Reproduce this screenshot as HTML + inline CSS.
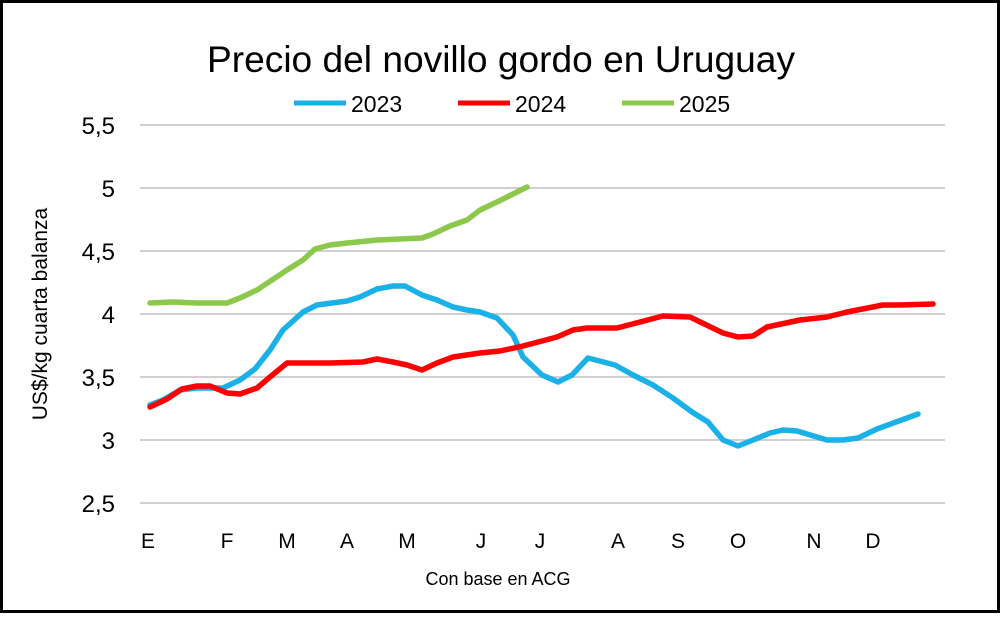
<!DOCTYPE html>
<html><head><style>body{margin:0;background:#fff}</style></head><body>
<svg width="1000" height="613" xmlns="http://www.w3.org/2000/svg" font-family="Liberation Sans, sans-serif">
<rect x="1.5" y="1.5" width="997" height="610" fill="#fff" stroke="#000" stroke-width="3"/>
<text x="501" y="72" font-size="37" text-anchor="middle" fill="#000" textLength="588" lengthAdjust="spacingAndGlyphs">Precio del novillo gordo en Uruguay</text>
<line x1="294" y1="103" x2="346" y2="103" stroke="#1ab0e8" stroke-width="5"/>
<text x="351" y="112" font-size="23">2023</text>
<line x1="458" y1="103" x2="510" y2="103" stroke="#f00" stroke-width="5"/>
<text x="515" y="112" font-size="23">2024</text>
<line x1="622" y1="103" x2="674" y2="103" stroke="#8cc84b" stroke-width="5"/>
<text x="679" y="112" font-size="23">2025</text>
<g stroke="#d0d0d0" stroke-width="2">
<line x1="140" y1="125" x2="945" y2="125"/><line x1="140" y1="188" x2="945" y2="188"/>
<line x1="140" y1="251" x2="945" y2="251"/><line x1="140" y1="314" x2="945" y2="314"/>
<line x1="140" y1="377" x2="945" y2="377"/><line x1="140" y1="440" x2="945" y2="440"/>
<line x1="140" y1="503" x2="945" y2="503"/></g>
<g font-size="24" text-anchor="end">
<text x="115" y="134">5,5</text><text x="115" y="197">5</text><text x="115" y="260">4,5</text>
<text x="115" y="323">4</text><text x="115" y="386">3,5</text><text x="115" y="449">3</text><text x="115" y="512">2,5</text></g>
<g font-size="21" text-anchor="middle">
<text x="148" y="548">E</text><text x="227" y="548">F</text><text x="287" y="548">M</text><text x="347" y="548">A</text>
<text x="407" y="548">M</text><text x="481" y="548">J</text><text x="540" y="548">J</text><text x="618" y="548">A</text>
<text x="678" y="548">S</text><text x="738" y="548">O</text><text x="814" y="548">N</text><text x="873" y="548">D</text></g>
<text x="498" y="585" font-size="18" text-anchor="middle">Con base en ACG</text>
<text transform="translate(47,314) rotate(-90)" font-size="21" text-anchor="middle">US$/kg cuarta balanza</text>
<g fill="none" stroke-width="5.5" stroke-linejoin="round" stroke-linecap="round">
<polyline stroke="#8cc84b" points="150,303 173,302 197,303 227,303 240,298 257,290 287,270 303,260 315,249 330,245 347,243 377,240 422,238 433,234 450,226 467,220 480,210 497,202 527,187"/>
<polyline stroke="#1ab0e8" points="150,405 163,400 180,390 197,388 223,388 240,380 255,369 270,350 283,330 303,312 317,305 347,301 360,297 377,289 393,286 405,286 422,295 437,300 453,307 467,310 480,312 497,318 513,335 523,357 542,375 558,382 572,375 588,358 615,365 633,375 653,385 673,398 692,412 708,422 723,440 738,446 753,440 770,433 783,430 797,431 827,440 843,440 858,438 877,429 918,414"/>
<polyline stroke="#f00" points="150,407 167,399 182,389 197,386 210,386 227,393 240,394 257,388 270,377 287,363 330,363 363,362 377,359 393,362 407,365 422,370 437,363 453,357 480,353 500,351 523,346 557,337 573,330 587,328 617,328 663,316 690,317 723,333 738,337 753,336 767,327 800,320 827,317 847,312 883,305 900,305 933,304"/>
</g>
</svg>
</body></html>
